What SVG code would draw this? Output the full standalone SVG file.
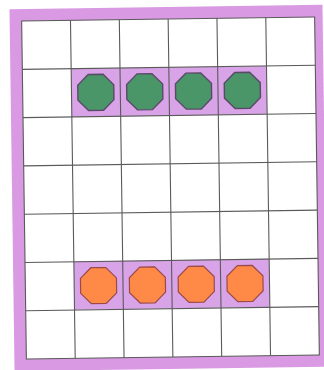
<svg xmlns="http://www.w3.org/2000/svg" xmlns:xlink="http://www.w3.org/1999/xlink" width="324" height="370" viewBox="0 0 324 370">
  <style>
    .frame { fill: #d99ae3; }
    .board { fill: #ffffff; }
    .strip { fill: #d9a3e8; }
    .grid { stroke: #5a5a5a; stroke-width: 1.1; fill: none; }
    .green { fill: #4a9668; stroke: #5a4a68; stroke-width: 1.4; }
    .orange { fill: #ff8a48; stroke: #9a4a48; stroke-width: 1.2; }
  </style>
  <defs>
    <polygon id="oct" points="18,7.46 7.46,18 -7.46,18 -18,7.46 -18,-7.46 -7.46,-18 7.46,-18 18,-7.46"/>
  </defs>
  <rect width="324" height="370" fill="#ffffff"/>
  <g transform="rotate(-0.8 170 188)">
    <g id="frame">
      <rect class="frame" x="12" y="7" width="313" height="362"/>
      <rect class="board" x="24" y="19" width="293" height="338"/>
    </g>
    <g id="strips">
      <rect class="strip" x="72.83" y="67.29" width="195.33" height="48.29"/>
      <rect class="strip" x="72.83" y="260.14" width="195.33" height="48.29"/>
    </g>
    <g id="grid" class="grid">
      <rect x="24" y="19" width="293" height="338"/>
      <path d="M72.83 19V357M121.67 19V357M170.5 19V357M219.33 19V357M268.17 19V357"/>
      <path d="M24 67.29H317M24 115.57H317M24 163.86H317M24 212.14H317M24 260.43H317M24 308.71H317"/>
    </g>
    <g id="green-1"><use xlink:href="#oct" class="green" x="97.2" y="91.4"/></g>
    <g id="green-2"><use xlink:href="#oct" class="green" x="146.1" y="91.4"/></g>
    <g id="green-3"><use xlink:href="#oct" class="green" x="194.9" y="91.4"/></g>
    <g id="green-4"><use xlink:href="#oct" class="green" x="243.7" y="91.4"/></g>
    <g id="orange-1"><use xlink:href="#oct" class="orange" x="97.2" y="284.6"/></g>
    <g id="orange-2"><use xlink:href="#oct" class="orange" x="146.1" y="284.6"/></g>
    <g id="orange-3"><use xlink:href="#oct" class="orange" x="194.9" y="284.6"/></g>
    <g id="orange-4"><use xlink:href="#oct" class="orange" x="243.7" y="284.6"/></g>
    <g id="connectors"/>
  </g>
</svg>
